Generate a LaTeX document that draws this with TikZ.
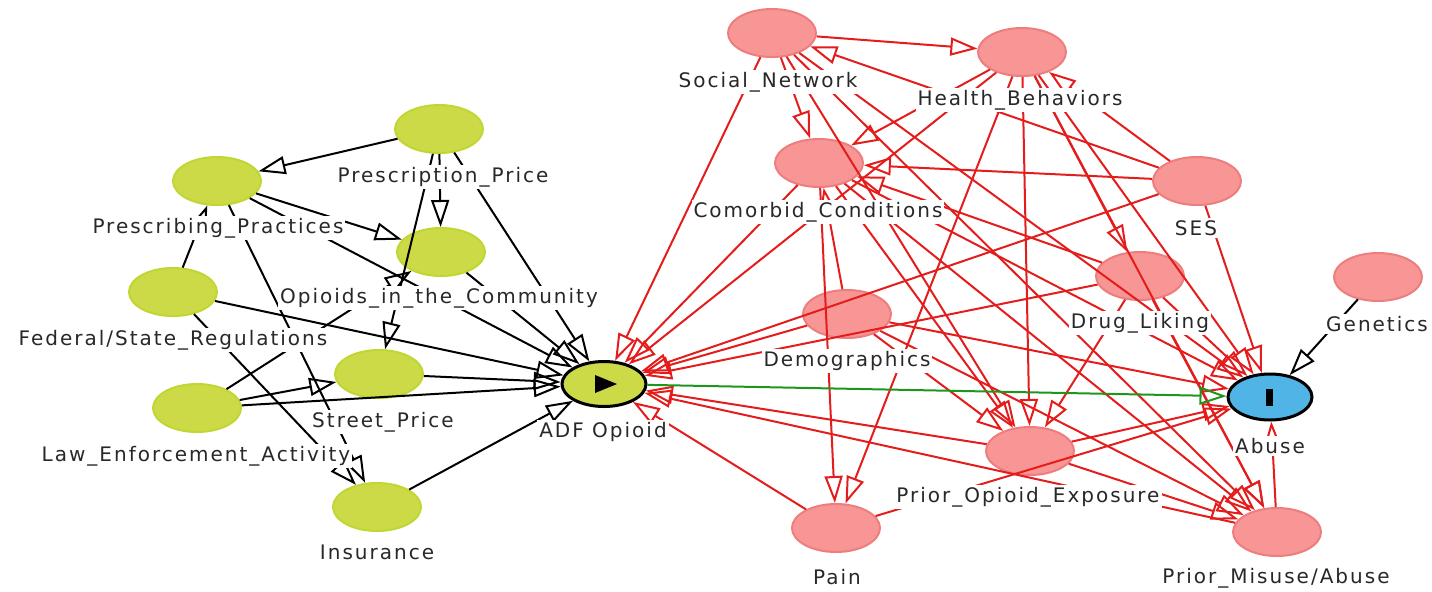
\documentclass[tikz,border=0pt]{standalone}
\usepackage{fontspec}
\newfontfamily\labfont[LetterSpace=10]{DejaVu Sans}
\usetikzlibrary{arrows.meta,shapes.geometric}
\definecolor{gfill}{RGB}{204,218,72}
\definecolor{gdraw}{RGB}{192,214,50}
\definecolor{rfill}{RGB}{248,150,150}
\definecolor{rdraw}{RGB}{238,125,125}
\definecolor{rline}{RGB}{228,28,28}
\definecolor{gline}{RGB}{30,150,30}
\definecolor{bfill}{RGB}{80,180,230}
\definecolor{labtext}{RGB}{40,40,40}
\begin{document}
\begin{tikzpicture}[x=0.5pt,y=-0.5pt,
  gnode/.style={ellipse,fill=gfill,draw=gdraw,line width=1pt,minimum width=44pt,minimum height=24pt,inner sep=0pt},
  rnode/.style={ellipse,fill=rfill,draw=rdraw,line width=1pt,minimum width=44pt,minimum height=24pt,inner sep=0pt},
  adfnode/.style={ellipse,fill=gfill,draw=black,line width=1.5pt,minimum width=42pt,minimum height=22.5pt,inner sep=0pt},
  abnode/.style={ellipse,fill=bfill,draw=black,line width=1.5pt,minimum width=42pt,minimum height=23pt,inner sep=0pt},
  lab/.style={fill=white,inner sep=1pt,text=labtext,font=\labfont\fontsize{10}{11}\selectfont},
  blk/.style={draw=black,line width=1pt,-{Triangle[open,length=13.5pt,width=9pt]}},
  redge/.style={draw=rline,line width=1pt,-{Triangle[open,length=13.5pt,width=9pt]}},
  gedge/.style={draw=gline,line width=1pt,-{Triangle[open,length=13.5pt,width=9pt]}}]
\useasboundingbox (0,0) rectangle (1432,591);
% green nodes
\node[gnode] (PrP) at (439,129) {};
\node[gnode] (PP) at (217,181) {};
\node[gnode] (OitC) at (441,252) {};
\node[gnode] (FSR) at (173,292) {};
\node[gnode] (Street) at (379,374) {};
\node[gnode] (LEA) at (197,408) {};
\node[gnode] (Ins) at (377,507) {};
\node[adfnode] (ADF) at (604,384) {};
% red nodes
\node[rnode] (SN) at (772,33) {};
\node[rnode] (HB) at (1022,52) {};
\node[rnode] (CC) at (819,163) {};
\node[rnode] (SES) at (1197,181) {};
\node[rnode] (DL) at (1140,276) {};
\node[rnode] (Gen) at (1378,277) {};
\node[rnode] (Dem) at (847,314) {};
\node[abnode] (Abuse) at (1270,397) {};
\node[rnode] (POE) at (1030,451) {};
\node[rnode] (Pain) at (836,528) {};
\node[rnode] (PMA) at (1277,532) {};
% black edges
\draw[blk] (PrP) -- (PP);
\draw[blk] (PrP) -- (OitC);
\draw[blk] (PrP) -- (Street);
\draw[blk] (PrP) -- (ADF);
\draw[blk] (PP) -- (OitC);
\draw[blk] (PP) -- (ADF);
\draw[blk] (PP) -- (Ins);
\draw[blk] (FSR) -- (PP);
\draw[blk] (FSR) -- (ADF);
\draw[blk] (FSR) -- (Ins);
\draw[blk] (LEA) -- (Street);
\draw[blk] (LEA) -- (ADF);
\draw[blk] (LEA) -- (OitC);
\draw[blk] (Street) -- (ADF);
\draw[blk] (OitC) -- (ADF);
\draw[blk] (Ins) -- (ADF);
\draw[blk] (Gen) -- (Abuse);
% red edges
\draw[redge] (SN) -- (HB);
\draw[redge] (SN) -- (CC);
\draw[redge] (SN) -- (ADF);
\draw[redge] (SN) -- (POE);
\draw[redge] (SN) -- (PMA);
\draw[redge] (SN) -- (Abuse);
\draw[redge] (SES) -- (SN);
\draw[redge] (SES) -- (HB);
\draw[redge] (SES) -- (CC);
\draw[redge] (SES) -- (ADF);
\draw[redge] (SES) -- (Abuse);
\draw[redge] (HB) -- (CC);
\draw[redge] (HB) -- (ADF);
\draw[redge] (HB) -- (Pain);
\draw[redge] (HB) -- (POE);
\draw[redge] (HB) -- (DL);
\draw[redge] (HB) -- (Abuse);
\draw[redge] (HB) -- (PMA);
\draw[redge] (CC) -- (ADF);
\draw[redge] (CC) -- (Pain);
\draw[redge] (CC) -- (POE);
\draw[redge] (CC) -- (Abuse);
\draw[redge] (CC) -- (PMA);
\draw[redge] (DL) -- (CC);
\draw[redge] (DL) -- (ADF);
\draw[redge] (DL) -- (POE);
\draw[redge] (DL) -- (Abuse);
\draw[redge] (DL) -- (PMA);
\draw[redge] (Dem) -- (CC);
\draw[redge] (Dem) -- (ADF);
\draw[redge] (Dem) -- (POE);
\draw[redge] (Dem) -- (Abuse);
\draw[redge] (Dem) -- (PMA);
\draw[redge] (POE) -- (ADF);
\draw[redge] (POE) -- (Abuse);
\draw[redge] (POE) -- (PMA);
\draw[redge] (PMA) -- (ADF);
\draw[redge] (PMA) -- (Abuse);
\draw[redge] (Pain) -- (ADF);
\draw[redge] (Pain) -- (Abuse);
% green edge
\draw[gedge] (ADF) -- (Abuse);
% marks inside exposure and outcome
\fill[black] (595,375) -- (595,393) -- (617,384) -- cycle;
\fill[black] (1266,389) rectangle (1273,406);
% labels
\node[lab] (PrPl) at (443,177) {Prescription\_Price};
\node[lab] (PPl) at (218,228) {Prescribing\_Practices};
\node[lab] (OitCl) at (439,298) {Opioids\_in\_the\_Community};
\node[lab] (FSRl) at (173,340) {Federal/State\_Regulations};
\node[lab] (Streetl) at (383,422) {Street\_Price};
\node[lab] (LEAl) at (196,456) {Law\_Enforcement\_Activity};
\node[lab] (Insl) at (377,552) {Insurance};
\node[lab] (ADFl) at (603,432) {ADF Opioid};
\node[lab] (SNl) at (768,82) {Social\_Network};
\node[lab] (HBl) at (1020,100) {Health\_Behaviors};
\node[lab] (CCl) at (818,212) {Comorbid\_Conditions};
\node[lab] (SESl) at (1196,228) {SES};
\node[lab] (DLl) at (1140,323) {Drug\_Liking};
\node[lab] (Genl) at (1377,324) {Genetics};
\node[lab] (Deml) at (847,361) {Demographics};
\node[lab] (Abusel) at (1270,446) {Abuse};
\node[lab] (POEl) at (1028,497) {Prior\_Opioid\_Exposure};
\node[lab] (Painl) at (837,577) {Pain};
\node[lab] (PMAl) at (1276,578) {Prior\_Misuse/Abuse};
\end{tikzpicture}
\end{document}
